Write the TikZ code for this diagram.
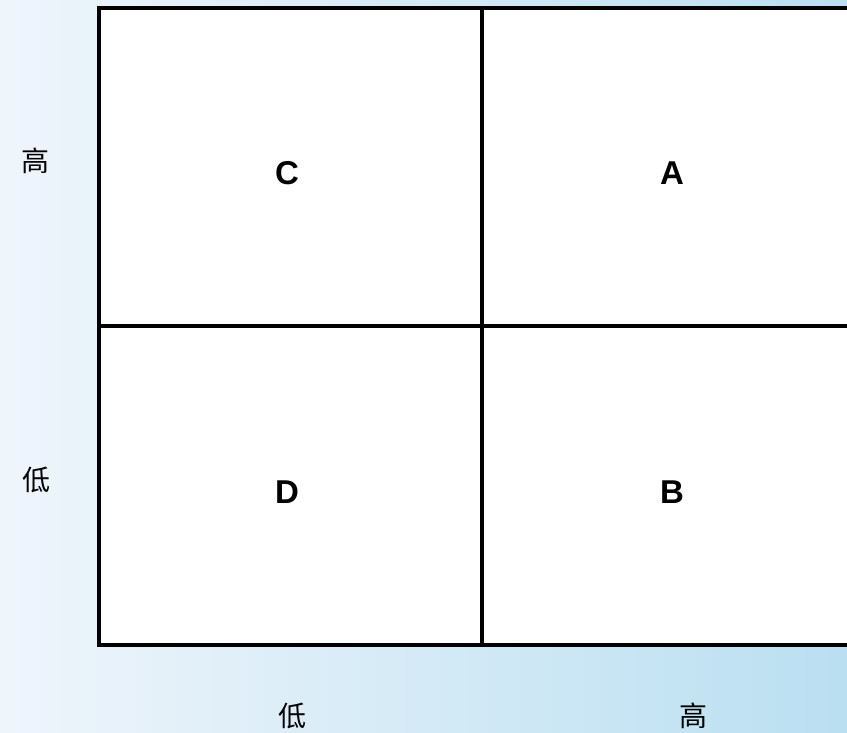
\documentclass[tikz,border=0pt]{standalone}
\usepackage{fontspec}
\setmainfont{Liberation Sans}
\newfontfamily\cjk{Noto Sans CJK SC}
\begin{document}
\begin{tikzpicture}[x=1pt,y=-1pt,
  gridline/.style={line width=3.2pt,black},
  quad/.style={font=\bfseries\fontsize{33}{36}\selectfont},
  axislab/.style={font=\cjk\fontsize{28}{32}\selectfont}]
\clip (0,0) rectangle (847,732);
\useasboundingbox (0,0) rectangle (847,732);
\shade[left color={rgb,255:red,239;green,245;blue,251}, right color={rgb,255:red,186;green,223;blue,241}] (0,0) rectangle (847,732);
\fill[white] (99,8) rectangle (870,645);
\draw[gridline] (99,8) rectangle (870,645);
\draw[gridline] (482,8) -- (482,645);
\draw[gridline] (99,326) -- (870,326);
\node[quad] (c) at (287,173) {C};
\node[quad] (a) at (672,173) {A};
\node[quad] (d) at (287,492) {D};
\node[quad] (b) at (672,492) {B};
\node[axislab] (yh) at (35,161) {高};
\node[axislab] (yl) at (37,480) {低};
\node[axislab] (xl) at (292,716) {低};
\node[axislab] (xh) at (693,716) {高};
\end{tikzpicture}
\end{document}
